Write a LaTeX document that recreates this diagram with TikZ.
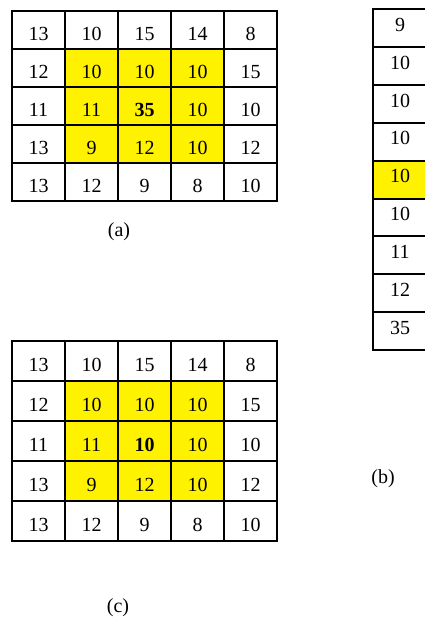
\documentclass[tikz,border=0pt]{standalone}
\usepackage{fontspec}
\setmainfont{Liberation Serif}
\usetikzlibrary{backgrounds}
\pgfdeclarelayer{background}
\pgfsetlayers{background,main}

\begin{document}
\begin{tikzpicture}[x=1pt,y=-1pt]
\tikzstyle{cell}=[draw,line width=2pt,minimum width=53pt,minimum height=38pt,inner sep=0pt,text depth=0pt,text height=20pt,font=\fontsize{20}{24}\selectfont]
\tikzstyle{lbl}=[font=\fontsize{20}{24}\selectfont]
\useasboundingbox (0,0) rectangle (424,621);

% (a) the window before filtering
\foreach \row [count=\r] in {{13,10,15,14,8},{12,10,10,10,15},{11,11,\textbf{35},10,10},{13,9,12,10,12},{13,12,9,8,10}} {
  \foreach \v [count=\c] in \row {
    \node[cell] (a-\r-\c) at (38.5+53*\c-53, 30+38*\r-38) {\v};
  }
}
\node[lbl] (la) at (119,232) {(a)};

% (b) sorted values
\foreach \v [count=\k] in {9,10,10,10,10,10,11,12,35} {
  \node[cell,minimum width=54pt,minimum height=37.9pt,text height=6.5pt] (b-\k) at (400, 28+37.9*\k-37.9) {\v};
}
\node[lbl] (lb) at (383,479) {(b)};

% (c) the window after filtering
\foreach \row [count=\r] in {{13,10,15,14,8},{12,10,10,10,15},{11,11,\textbf{10},10,10},{13,9,12,10,12},{13,12,9,8,10}} {
  \foreach \v [count=\c] in \row {
    \node[cell,minimum height=40pt,text height=21.5pt] (c-\r-\c) at (38.5+53*\c-53, 361+40*\r-40) {\v};
  }
}
\node[lbl] (lc) at (118,608) {(c)};

\begin{pgfonlayer}{background}
\fill[yellow] (a-2-2.north west) rectangle (a-4-4.south east);
\fill[yellow] (b-5.north west) rectangle (b-5.south east);
\fill[yellow] (c-2-2.north west) rectangle (c-4-4.south east);
\end{pgfonlayer}
\end{tikzpicture}
\end{document}
